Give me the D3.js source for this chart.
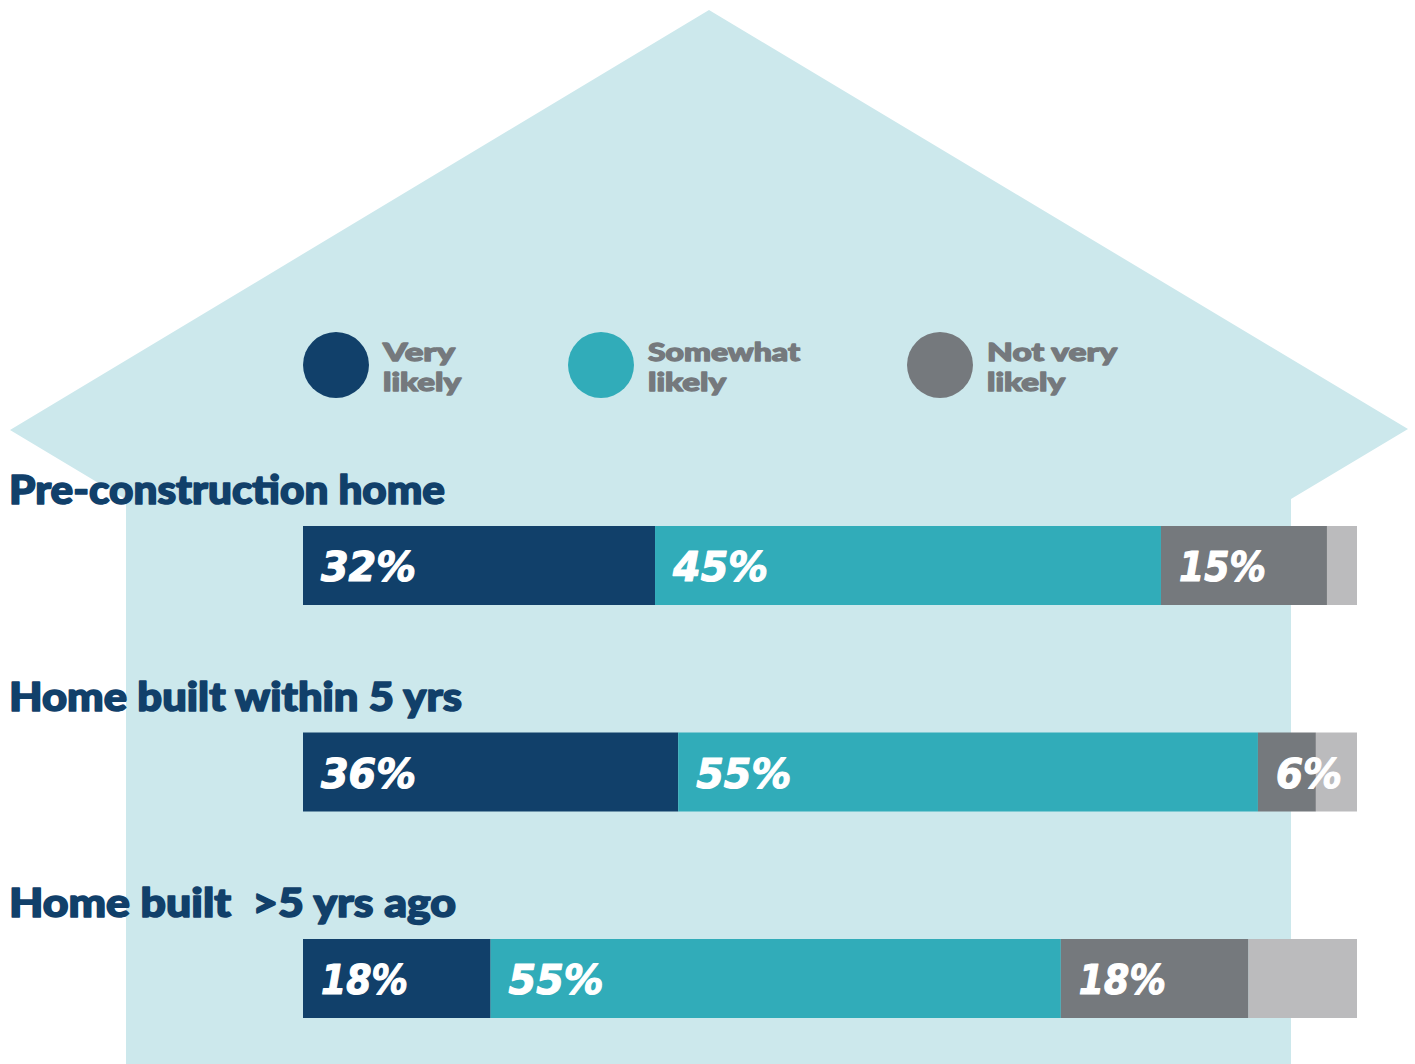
<!DOCTYPE html>
<html><head><meta charset="utf-8">
<script src="https://cdn.jsdelivr.net/npm/d3@7"></script>
<style>body{margin:0;background:#fff}svg{display:block}</style>
</head><body>
<script>
const categories = ["Pre-construction home", "Home built within 5 yrs", "Home built  >5 yrs ago"];
const seriesNames = ["Very likely", "Somewhat likely", "Not very likely", "Other"];
const legendLines = [["Very", "likely"], ["Somewhat", "likely"], ["Not very", "likely"]];
// bar segment shares as drawn (percent of bar length)
const veryLikely     = [33.4, 35.6, 17.8];
const somewhatLikely = [48.0, 55.0, 54.1];
const notVeryLikely  = [15.75, 5.5, 17.8];
const other          = [2.85, 3.9, 10.3];
// printed labels
const veryLabels     = ["32%", "36%", "18%"];
const somewhatLabels = ["45%", "55%", "55%"];
const notVeryLabels  = ["15%", "6%", "18%"];

const colors = ["#11406a", "#31acb9", "#75797d", "#bbbbbd"];
const W = 1415, H = 1064;
const svg = d3.select("body").append("svg").attr("width", W).attr("height", H);

// house background
svg.append("path")
  .attr("d", "M709,10 L1408,429 L1291,499 L1291,1064 L126,1064 L126,499.6 L10,430 Z")
  .attr("fill", "#cce8ec");

const x = d3.scaleLinear().domain([0, 100]).range([303, 1357]);
const rowY = d3.scalePoint().domain(categories).range([526, 939]);
const barH = 79;

const table = categories.map((c, i) => ({
  cat: c, vals: [veryLikely[i], somewhatLikely[i], notVeryLikely[i], other[i]],
  labels: [veryLabels[i], somewhatLabels[i], notVeryLabels[i], null]
}));

// headings
svg.selectAll("text.cat").data(table).enter().append("text")
  .attr("class", "cat")
  .attr("x", 9).attr("y", d => rowY(d.cat) - 22)
  .attr("font-family", "Lato").attr("font-weight", 900).attr("font-size", 40)
  .attr("fill", "#11406a").attr("stroke", "#11406a").attr("stroke-width", 1.6)
  .attr("stroke-linejoin", "round")
  .attr("textLength", (d, i) => [436, 453, 447][i])
  .attr("lengthAdjust", "spacingAndGlyphs")
  .style("white-space", "pre")
  .text(d => d.cat);

table.forEach(row => {
  let acc = 0;
  const segs = row.vals.map((v, k) => { const s = {x0: acc, x1: acc + v, k, label: row.labels[k]}; acc += v; return s; });
  const g = svg.append("g");
  g.selectAll("rect").data(segs).enter().append("rect")
    .attr("x", d => x(d.x0)).attr("width", d => x(d.x1) - x(d.x0))
    .attr("y", rowY(row.cat)).attr("height", barH)
    .attr("fill", d => colors[d.k]);
  g.selectAll("text").data(segs.filter(s => s.label)).enter().append("text")
    .attr("x", d => x(d.x0) + 18).attr("y", rowY(row.cat) + 55)
    .attr("font-family", "DejaVu Sans").attr("font-weight", 700).attr("font-style", "oblique")
    .attr("font-size", 40).attr("fill", "#fff")
    .attr("stroke", "#fff").attr("stroke-width", 1.2).attr("stroke-linejoin", "round")
    .attr("textLength", d => d.label.length === 2 ? 66 : (d.label[0] === "1" ? 87 : 95))
    .attr("lengthAdjust", "spacingAndGlyphs")
    .text(d => d.label);
});

// legend
const legX = [336, 601, 940];
const legW = [[72, 78], [152, 78], [130, 78]];
const lg = svg.selectAll("g.leg").data(legendLines).enter().append("g").attr("class", "leg");
lg.append("circle").attr("cx", (d, i) => legX[i]).attr("cy", 365).attr("r", 33)
  .attr("fill", (d, i) => colors[i]);
lg.each(function(lines, i) {
  const g = d3.select(this);
  lines.forEach((ln, j) => g.append("text")
    .attr("x", legX[i] + 47).attr("y", 361 + j * 30)
    .attr("font-family", "Lato").attr("font-weight", 900).attr("font-size", 25)
    .attr("fill", "#75797d").attr("stroke", "#75797d").attr("stroke-width", 1.3)
    .attr("stroke-linejoin", "round")
    .attr("textLength", legW[i][j]).attr("lengthAdjust", "spacingAndGlyphs")
    .text(ln));
});
</script>
</body></html>
